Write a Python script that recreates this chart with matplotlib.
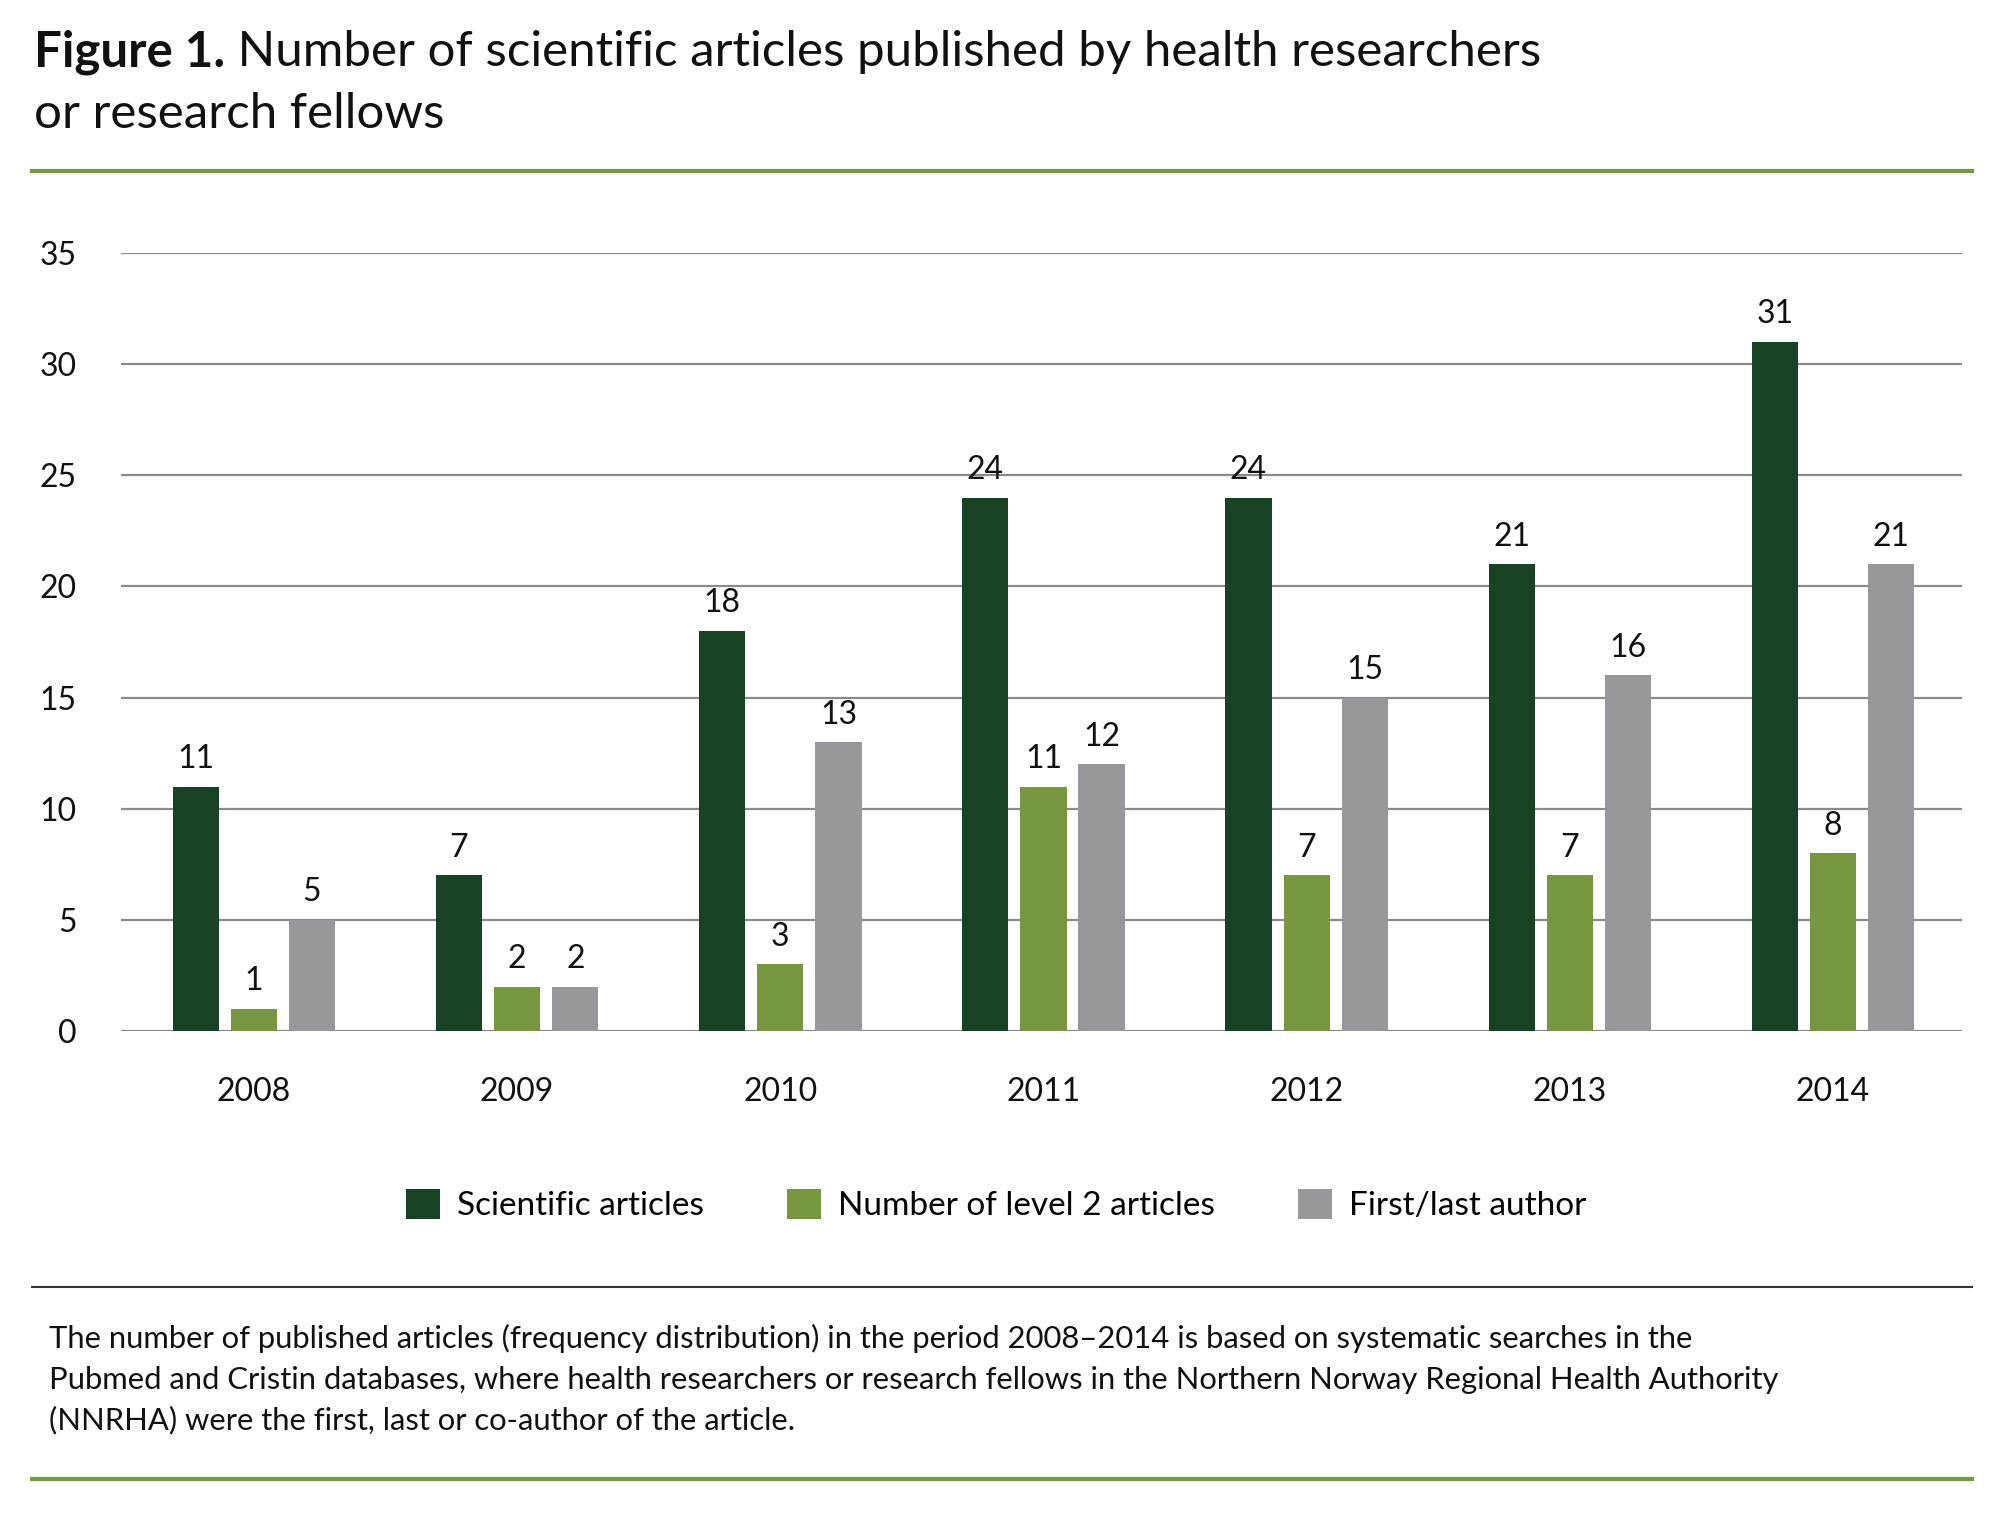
import matplotlib
matplotlib.use("Agg")
import matplotlib.pyplot as plt
import numpy as np
from matplotlib.lines import Line2D

plt.rcParams['font.family'] = ['Lato', 'DejaVu Sans']

# --- Data ---
years = ['2008', '2009', '2010', '2011', '2012', '2013', '2014']
scientific = [11, 7, 18, 24, 24, 21, 31]
level2 = [1, 2, 3, 11, 7, 7, 8]
first_last = [5, 2, 13, 12, 15, 16, 21]
series_names = ['Scientific articles', 'Number of level 2 articles', 'First/last author']
colors = ['#174224', '#76963f', '#97989c']

title_bold = 'Figure 1.'
title_rest = ' Number of scientific articles published by health researchers'
title_line2 = 'or research fellows'
footnote = [
    'The number of published articles (frequency distribution) in the period 2008\u20132014 is based on systematic searches in the',
    'Pubmed and Cristin databases, where health researchers or research fellows in the Northern Norway Regional Health Authority',
    '(NNRHA) were the first, last or co-author of the article.',
]

# --- Figure ---
fig = plt.figure(figsize=(20, 15.14), dpi=100)
ax = fig.add_axes([0.0605, 0.319, 0.9205, 0.5139])

x = np.arange(len(years))
width = 0.176
step = 0.221
bars = []
for i, (vals, c) in enumerate(zip([scientific, level2, first_last], colors)):
    b = ax.bar(x + (i - 1) * step, vals, width, color=c, label=series_names[i], zorder=3)
    ax.bar_label(b, padding=9, fontsize=23, color='#111111')
    bars.append(b)

ax.set_ylim(0, 35)
ax.set_xlim(-0.505, 6.49)
ax.set_yticks(range(0, 36, 5))
ax.set_xticks(x)
ax.set_xticklabels(years)
ax.tick_params(axis='both', length=0, labelsize=23, colors='#111111')
ax.tick_params(axis='y', pad=32)
ax.tick_params(axis='x', pad=33)
ax.grid(axis='y', color='#8a8a8a', linewidth=1.6, zorder=0)
ax.set_axisbelow(True)
for s in ax.spines.values():
    s.set_visible(False)

# --- Title ---
t1 = fig.text(0.017, 0.9564, title_bold, fontsize=35.5, fontweight='bold', va='baseline', color='#111111')
fig.canvas.draw()
r = fig.canvas.get_renderer()
bb = t1.get_window_extent(renderer=r)
fig.text(bb.x1 / fig.bbox.width, 0.9564, title_rest, fontsize=35.5, va='baseline', color='#111111')
fig.text(0.017, 0.9155, title_line2, fontsize=35.5, va='baseline', color='#111111')

# --- Rules ---
fig.add_artist(Line2D([0.016, 0.986], [0.8871, 0.8871], color='#76963f', linewidth=3, transform=fig.transFigure))
fig.add_artist(Line2D([0.016, 0.986], [0.150, 0.150], color='#333333', linewidth=1.5, transform=fig.transFigure))
fig.add_artist(Line2D([0.016, 0.986], [0.0231, 0.0231], color='#76963f', linewidth=3, transform=fig.transFigure))

# --- Legend ---
fig.legend(handles=bars, labels=series_names, loc='center', bbox_to_anchor=(0.498, 0.204),
           ncol=3, frameon=False, fontsize=24, handlelength=1.02, handleheight=0.99,
           handletextpad=0.5, columnspacing=2.5)

# --- Footnote ---
for yy, line in zip([0.1096, 0.0826, 0.0561], footnote):
    fig.text(0.0245, yy, line, fontsize=22.3, va='baseline', color='#111111')

fig.savefig('out.png', dpi=100, facecolor='white')
